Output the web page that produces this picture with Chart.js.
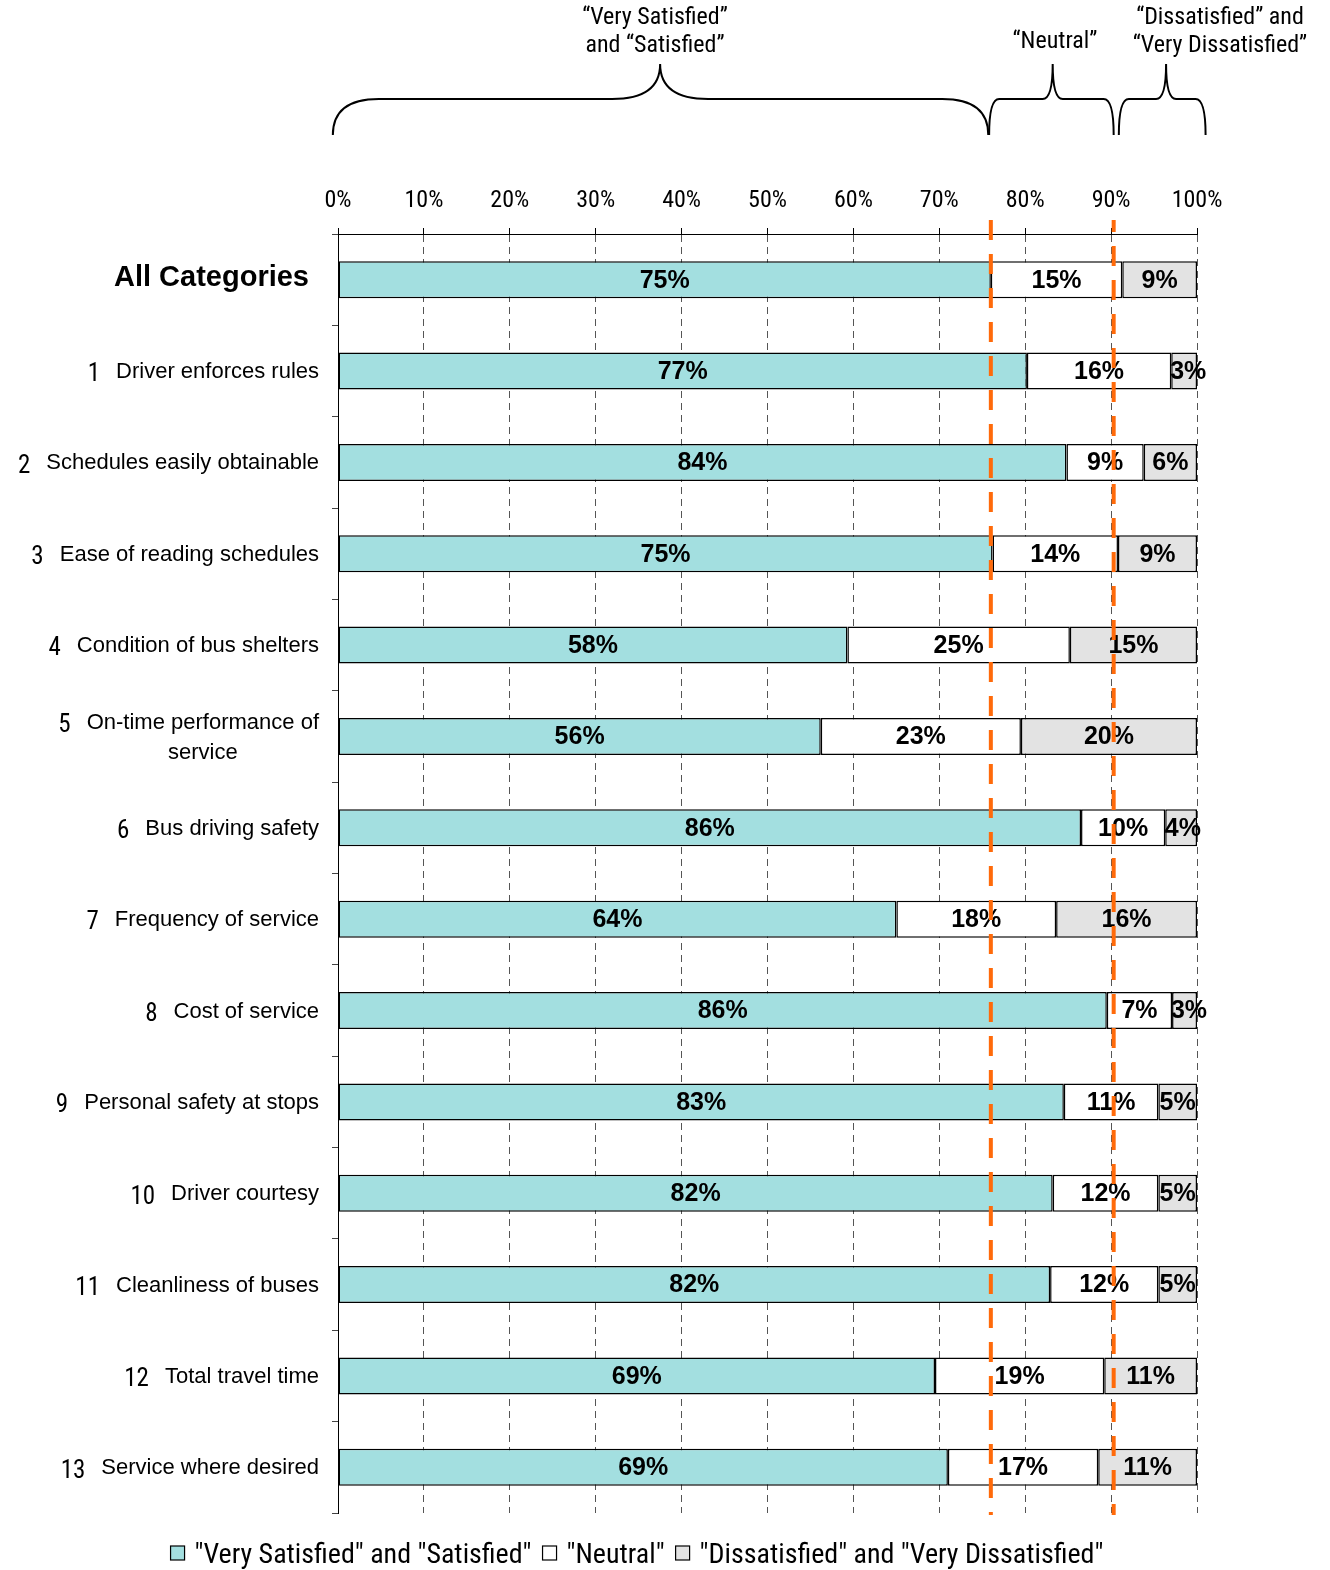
<!DOCTYPE html>
<html><head><meta charset="utf-8">
<script src="https://cdn.jsdelivr.net/npm/chart.js@4.4.1/dist/chart.umd.min.js"></script>
<style>html,body{margin:0;padding:0;background:#fff;} #wrap{width:1330px;height:1570px;position:relative;}</style>
</head><body><div id="wrap"><canvas id="c"></canvas></div>
<script>
// ---- data ----
const categories = [
  'All Categories',
  'Driver enforces rules',
  'Schedules easily obtainable',
  'Ease of reading schedules',
  'Condition of bus shelters',
  ['On-time performance of', 'service'],
  'Bus driving safety',
  'Frequency of service',
  'Cost of service',
  'Personal safety at stops',
  'Driver courtesy',
  'Cleanliness of buses',
  'Total travel time',
  'Service where desired'
];
const categoryNumbers = ['', '1', '2', '3', '4', '5', '6', '7', '8', '9', '10', '11', '12', '13'];
const seriesNames = ['"Very Satisfied" and "Satisfied"', '"Neutral"', '"Dissatisfied" and "Very Dissatisfied"'];
const satisfied    = [76.0, 80.2, 84.8, 76.2, 59.3, 56.2, 86.5, 65.0, 89.5, 84.5, 83.2, 82.9, 69.5, 71.0];
const neutral      = [15.3, 16.8,  9.0, 14.6, 25.9, 23.3,  9.8, 18.6,  7.6, 11.0, 12.3, 12.6, 19.7, 17.5];
const dissatisfied = [ 8.7,  3.0,  6.2,  9.2, 14.8, 20.5,  3.7, 16.4,  2.9,  4.5,  4.5,  4.5, 10.8, 11.5];
const satisfiedLabels    = ['75%','77%','84%','75%','58%','56%','86%','64%','86%','83%','82%','82%','69%','69%'];
const neutralLabels      = ['15%','16%','9%','14%','25%','23%','10%','18%','7%','11%','12%','12%','19%','17%'];
const dissatisfiedLabels = ['9%','3%','6%','9%','15%','20%','4%','16%','3%','5%','5%','5%','11%','11%'];
const referenceLines = [76.0, 90.3];
const xTicks = [0,10,20,30,40,50,60,70,80,90,100];
const braceRanges = [[-0.6, 75.7, 37.5], [75.8, 90.3, 83.2], [90.9, 101.0, 96.4]];
const braceHeaders = [
  ['\u201CVery Satisfied\u201D', 'and \u201CSatisfied\u201D'],
  ['\u201CNeutral\u201D'],
  ['\u201CDissatisfied\u201D and', '\u201CVery Dissatisfied\u201D']
];

// ---- styling ----
const NARROW = "'Liberation Sans Narrow','Arial Narrow','Roboto Condensed','DejaVu Sans Condensed',sans-serif";
const SANS = "'Liberation Sans',Arial,Helvetica,sans-serif";
const colors = ['#a3dfe0', '#ffffff', '#e3e3e3'];
const valueLabels = [satisfiedLabels, neutralLabels, dissatisfiedLabels];

const yLabelPlugin = {
  id: 'yLabels',
  afterDraw(chart) {
    const {ctx, scales: {y}} = chart;
    ctx.save();
    ctx.fillStyle = '#000';
    ctx.textBaseline = 'middle';
    const textRight = y.right - 19;
    categories.forEach((lab, i) => {
      const yc = y.getPixelForValue(i);
      if (i === 0) {
        ctx.font = "bold 29px " + SANS;
        ctx.textAlign = 'right';
        ctx.fillText(lab, textRight - 10, yc - 2);
        return;
      }
      const lines = Array.isArray(lab) ? lab : [lab];
      ctx.font = "22px " + SANS;
      const w = Math.max(...lines.map(l => ctx.measureText(l).width));
      const lh = 30;
      const y0 = yc + 1 - (lines.length - 1) * lh / 2;
      ctx.textAlign = 'center';
      lines.forEach((l, k) => ctx.fillText(l, textRight - w / 2, y0 + k * lh));
      ctx.font = "25px " + NARROW;
      ctx.textAlign = 'right';
      ctx.fillText(categoryNumbers[i], textRight - w - 16, y0 + 3);
    });
    ctx.restore();
  }
};

const labelsAndLines = {
  id: 'labelsAndLines',
  afterDatasetsDraw(chart) {
    const {ctx, scales: {x, y}, chartArea} = chart;
    ctx.save();
    ctx.fillStyle = '#000';
    ctx.font = "bold 25px " + SANS;
    ctx.textAlign = 'center';
    ctx.textBaseline = 'middle';
    chart.data.datasets.forEach((ds, di) => {
      const meta = chart.getDatasetMeta(di);
      meta.data.forEach((bar, i) => {
        const cx = (bar.x + bar.base) / 2;
        const w = Math.abs(bar.x - bar.base);
        const tw = ctx.measureText(valueLabels[di][i]).width;
        const shift = tw > w ? (tw - w) / 2 * 0.8 : 0;
        ctx.fillText(valueLabels[di][i], cx + shift, bar.y + 1);
      });
    });
    ctx.strokeStyle = '#ff6a0a';
    ctx.lineWidth = 4;
    ctx.setLineDash([20, 14]);
    referenceLines.forEach((v, k) => {
      const px = x.getPixelForValue(v);
      ctx.lineDashOffset = k * 8;
      ctx.beginPath();
      ctx.moveTo(px, chartArea.top - 14);
      ctx.lineTo(px, chartArea.bottom + 2);
      ctx.stroke();
    });
    ctx.restore();
  }
};

const bracePlugin = {
  id: 'braces',
  afterDraw(chart) {
    const {ctx, scales: {x}} = chart;
    ctx.save();
    ctx.strokeStyle = '#000';
    ctx.lineWidth = 2;
    const yb = 135, yh = 99, yt = 64;
    braceRanges.forEach((r, k) => {
      const x1 = x.getPixelForValue(r[0]);
      const x2 = x.getPixelForValue(r[1]);
      const xm = x.getPixelForValue(r[2]);
      const re = k === 0 ? 46 : 10;
      const rm = k === 0 ? 48 : 10;
      ctx.beginPath();
      ctx.moveTo(x1, yb);
      ctx.quadraticCurveTo(x1, yh, x1 + re, yh);
      ctx.lineTo(xm - rm, yh);
      ctx.quadraticCurveTo(xm, yh, xm, yt);
      ctx.quadraticCurveTo(xm, yh, xm + rm, yh);
      ctx.lineTo(x2 - re, yh);
      ctx.quadraticCurveTo(x2, yh, x2, yb);
      ctx.stroke();
    });
    ctx.fillStyle = '#000';
    ctx.font = "24px " + NARROW;
    ctx.textAlign = 'center';
    ctx.textBaseline = 'middle';
    const hx = [655, 1055, 1220];
    braceHeaders.forEach((lines, k) => {
      const y0 = lines.length === 1 ? 42 : 18;
      lines.forEach((l, j) => ctx.fillText(l, hx[k], y0 + j * 28));
    });
    ctx.restore();
  }
};

const legendPlugin = {
  id: 'customLegend',
  afterDraw(chart) {
    const {ctx} = chart;
    ctx.save();
    ctx.font = "28px " + NARROW;
    ctx.textBaseline = 'middle';
    ctx.textAlign = 'left';
    const box = 14, gapText = 10, gapItem = 11, cy = 1553;
    const items = chart.data.datasets.map(ds => ({text: ds.label, color: ds.backgroundColor, w: ctx.measureText(ds.label).width}));
    const total = items.reduce((s, it) => s + box + gapText + it.w, 0) + gapItem * (items.length - 1);
    let xpos = 637 - total / 2;
    items.forEach(it => {
      ctx.fillStyle = it.color;
      ctx.fillRect(xpos, cy - box / 2, box, box);
      ctx.strokeStyle = '#000';
      ctx.lineWidth = 1.2;
      ctx.strokeRect(xpos, cy - box / 2, box, box);
      ctx.fillStyle = '#000';
      ctx.fillText(it.text, xpos + box + gapText, cy + 3);
      xpos += box + gapText + it.w + gapItem;
    });
    ctx.restore();
  }
};

new Chart(document.getElementById('c'), {
  type: 'bar',
  data: {
    labels: categories.map(c => Array.isArray(c) ? c.join(' ') : c),
    datasets: [satisfied, neutral, dissatisfied].map((d, i) => ({
      label: seriesNames[i],
      data: d,
      backgroundColor: colors[i],
      borderColor: '#000',
      borderWidth: 1.5,
      borderSkipped: false,
      barPercentage: 0.405,
      categoryPercentage: 1.0
    }))
  },
  options: {
    indexAxis: 'y',
    responsive: true,
    maintainAspectRatio: false,
    animation: false,
    layout: {padding: {top: 170, right: 133, left: 0, bottom: 57}},
    scales: {
      x: {
        type: 'linear', position: 'top', min: 0, max: 100, stacked: true,
        afterBuildTicks: s => { s.ticks = xTicks.map(v => ({value: v})); },
        ticks: {callback: v => v + '%', color: '#000', font: {family: NARROW, size: 24}, padding: 13, maxRotation: 0},
        grid: {color: '#555', lineWidth: 1, tickLength: 6, tickColor: '#000', tickBorderDash: []},
        border: {display: true, color: '#000', width: 1, dash: [7, 5]},
        afterFit: s => { s.height = 64; }
      },
      y: {
        type: 'category', stacked: true, offset: true,
        ticks: {display: false},
        grid: {offset: true, drawOnChartArea: false, drawTicks: true, tickLength: 6, color: '#444'},
        border: {display: true, color: '#000', width: 1},
        afterFit: s => { s.width = 338; }
      }
    },
    plugins: {
      legend: {display: false},
      tooltip: {enabled: false}
    }
  },
  plugins: [yLabelPlugin, labelsAndLines, bracePlugin, legendPlugin]
});
</script>
</body></html>
